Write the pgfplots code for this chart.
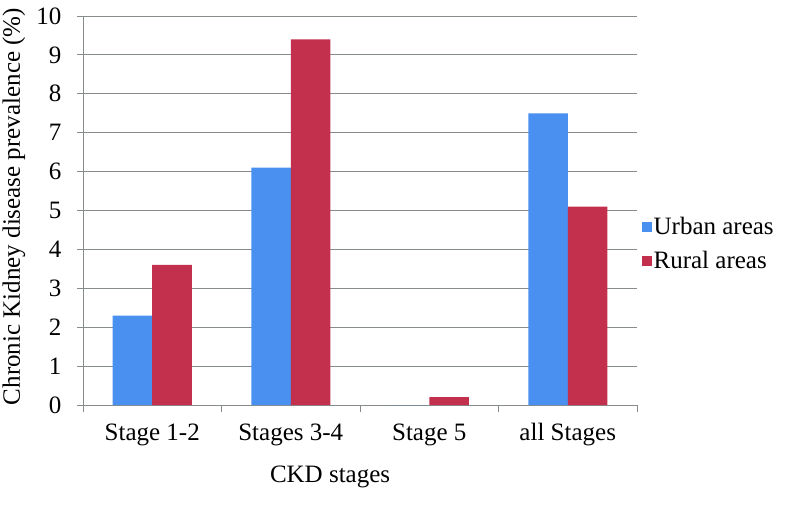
\documentclass[border=0pt]{standalone}
\usepackage{pgfplots}
\pgfplotsset{compat=1.18}
\usepackage{fontspec}
\setmainfont{Liberation Serif}
\definecolor{urb}{RGB}{74,144,240}
\definecolor{rur}{RGB}{195,48,77}
\definecolor{gridc}{RGB}{134,140,140}
\begin{document}
\begin{tikzpicture}[x=1pt,y=1pt]
\path[use as bounding box] (-83,-99) rectangle (704,405);
\begin{axis}[
  at={(0,0)}, anchor=south west,
  scale only axis, width=554pt, height=389pt,
  ybar=0pt, bar width=39.5pt,
  xmin=-0.5, xmax=3.5, ymin=0, ymax=10,
  xtick={0,1,2,3},
  xticklabels={Stage 1-2, Stages 3-4, Stage 5, all Stages},
  minor xtick={-0.5,0.5,1.5,2.5,3.5},
  ytick={0,1,...,10},
  axis x line*=bottom, axis y line*=left,
  axis line style={draw=gridc, line width=0.9pt, -},
  tick align=outside,
  major x tick style={draw=none},
  minor x tick style={draw=gridc, line width=0.9pt},
  major y tick style={draw=gridc, line width=0.9pt},
  minor tick length=7pt, major tick length=6pt,
  ymajorgrids, grid style={draw=gridc, line width=0.9pt},
  tick label style={font=\fontsize{25pt}{30pt}\selectfont},
  /pgf/number format/assume math mode=true,
  yticklabel style={anchor=east, xshift=-12pt},
  xticklabel style={anchor=center, yshift=-24pt},
  xlabel={CKD stages},
  xlabel style={at={(rel axis cs:0.446,0)}, anchor=center, yshift=-72pt},
  ylabel={Chronic Kidney disease prevalence (\%)},
  ylabel style={at={(rel axis cs:0,0.51)}, anchor=center, yshift=69pt},
  label style={font=\fontsize{25pt}{30pt}\selectfont},
  legend style={draw=none, fill=none, at={(1.008,0.414)}, anchor=west,
    font=\fontsize{25pt}{30pt}\selectfont, row sep=11pt, inner sep=0pt,
    /tikz/every even column/.append style={column sep=0pt}},
  legend cell align=left,
  legend image code/.code={\fill[#1] (0pt,-5pt) rectangle (10pt,5pt);},
]
\addplot[fill=urb, draw=none] coordinates {(0,2.3) (1,6.1) (2,0) (3,7.5)};
\addplot[fill=rur, draw=none] coordinates {(0,3.6) (1,9.4) (2,0.2) (3,5.1)};
\legend{Urban areas, Rural areas}
\end{axis}
\end{tikzpicture}
\end{document}
